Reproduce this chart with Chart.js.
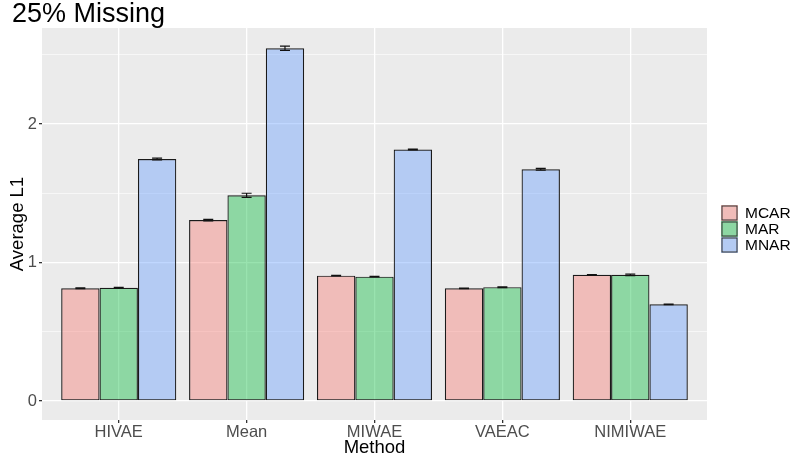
<!DOCTYPE html>
<html>
<head>
<meta charset="utf-8">
<script src="https://cdn.jsdelivr.net/npm/chart.js@4"></script>
<style>
  html, body { margin: 0; padding: 0; background: #fff; }
  #wrap { width: 791px; height: 457px; }
</style>
</head>
<body>
<div id="wrap"><canvas id="bars" width="791" height="457"></canvas></div>
<script>
const methods = ['HIVAE', 'Mean', 'MIWAE', 'VAEAC', 'NIMIWAE'];
const mechanisms = ['MCAR', 'MAR', 'MNAR'];

const mcar = [0.814, 1.306, 0.905, 0.814, 0.911];
const mar = [0.818, 1.485, 0.898, 0.822, 0.911];
const mnar = [1.747, 2.547, 1.816, 1.673, 0.698];

const mcarErr = [0.003, 0.006, 0.002, 0.002, 0.002];
const marErr = [0.002, 0.015, 0.002, 0.003, 0.005];
const mnarErr = [0.006, 0.015, 0.003, 0.006, 0.002];

const yTicks = [0, 0.5, 1, 1.5, 2, 2.5];

const fills = ['rgba(248,118,109,0.4)', 'rgba(0,186,56,0.4)', 'rgba(97,156,255,0.4)'];
const FONT = '"Liberation Sans", Arial, sans-serif';

function series(vals) {
  return vals.map((v, i) => ({ x: i + 1, y: v }));
}

const errs = [mcarErr, marErr, mnarErr];

// grey panel behind the plot, ggplot style
const panelBg = {
  id: 'panelBg',
  beforeDraw(chart) {
    const { ctx, chartArea: a } = chart;
    ctx.save();
    ctx.fillStyle = '#EBEBEB';
    ctx.fillRect(a.left, a.top, a.right - a.left, a.bottom - a.top);
    ctx.restore();
  }
};

const errorBars = {
  id: 'errorBars',
  afterDatasetsDraw(chart) {
    const { ctx } = chart;
    const y = chart.scales.y;
    ctx.save();
    ctx.strokeStyle = '#111';
    ctx.lineWidth = 1.2;
    chart.data.datasets.forEach((ds, di) => {
      const meta = chart.getDatasetMeta(di);
      meta.data.forEach((bar, i) => {
        const v = ds.data[i].y, e = errs[di][i];
        const x = bar.x;
        const yHi = y.getPixelForValue(v + e), yLo = y.getPixelForValue(v - e);
        ctx.beginPath();
        ctx.moveTo(x, yHi); ctx.lineTo(x, yLo);
        ctx.moveTo(x - 5, yHi); ctx.lineTo(x + 5, yHi);
        ctx.moveTo(x - 5, yLo); ctx.lineTo(x + 5, yLo);
        ctx.stroke();
      });
    });
    ctx.restore();
  }
};

// title and legend drawn ggplot-like
const decor = {
  id: 'decor',
  afterDraw(chart) {
    const { ctx } = chart;
    ctx.save();
    ctx.fillStyle = '#000';
    ctx.font = '27px ' + FONT;
    ctx.textBaseline = 'middle';
    ctx.textAlign = 'left';
    ctx.fillText('25% Missing', 12, 15);

    const kx = 721, ky = 205, kw = 17, kh = 16;
    ctx.font = '15.5px ' + FONT;
    mechanisms.forEach((m, i) => {
      const top = ky + i * kh;
      ctx.fillStyle = '#EBEBEB';
      ctx.fillRect(kx, top, kw, kh);
      ctx.fillStyle = fills[i];
      ctx.fillRect(kx, top, kw, kh);
      ctx.strokeStyle = '#333';
      ctx.lineWidth = 1;
      ctx.strokeRect(kx + 1, top + 1, kw - 2, kh - 2);
      ctx.fillStyle = '#000';
      ctx.fillText(m, kx + kw + 7, top + kh / 2 + 1);
    });
    ctx.restore();
  }
};

new Chart(document.getElementById('bars'), {
  type: 'bar',
  data: {
    datasets: [
      { label: 'MCAR', data: series(mcar), backgroundColor: fills[0] },
      { label: 'MAR', data: series(mar), backgroundColor: fills[1] },
      { label: 'MNAR', data: series(mnar), backgroundColor: fills[2] }
    ].map(d => Object.assign(d, {
      borderColor: '#1a1a1a',
      borderWidth: 1.2,
      borderSkipped: false,
      categoryPercentage: 0.9,
      barPercentage: 1.0
    }))
  },
  options: {
    responsive: false,
    animation: false,
    layout: { padding: { top: 28, right: 84, left: 0, bottom: 0 } },
    plugins: {
      legend: { display: false },
      tooltip: { enabled: false }
    },
    scales: {
      x: {
        type: 'linear',
        min: 0.4,
        max: 5.6,
        offset: false,
        afterBuildTicks(axis) { axis.ticks = methods.map((m, i) => ({ value: i + 1 })); },
        afterFit(axis) { axis.height = 37; },
        ticks: {
          callback: (v) => methods[v - 1] || '',
          color: '#4D4D4D',
          font: { size: 16.5, family: FONT },
          padding: 0,
          maxRotation: 0
        },
        grid: { offset: false, color: '#FFFFFF', lineWidth: 1.3, tickLength: 3, tickColor: '#333' },
        border: { display: false },
        title: {
          display: true, text: 'Method', color: '#000',
          font: { size: 18.5, family: FONT },
          padding: { top: 0, bottom: -2 }
        }
      },
      y: {
        min: -0.137,
        max: 2.693,
        afterBuildTicks(axis) { axis.ticks = yTicks.map(v => ({ value: v })); },
        afterFit(axis) { axis.width = 42; },
        ticks: {
          callback: (v) => Number.isInteger(v) ? String(v) : '',
          color: '#4D4D4D',
          font: { size: 16.5, family: FONT },
          padding: 2
        },
        grid: {
          color: '#FFFFFF',
          lineWidth: (c) => Number.isInteger(c.tick && c.tick.value) ? 1.3 : 0.6,
          tickLength: 3,
          tickColor: (c) => Number.isInteger(c.tick && c.tick.value) ? '#333' : 'rgba(0,0,0,0)'
        },
        border: { display: false },
        title: {
          display: true, text: 'Average L1', color: '#000',
          font: { size: 18.5, family: FONT },
          padding: { top: 7, bottom: 0 }
        }
      }
    }
  },
  plugins: [panelBg, errorBars, decor]
});
</script>
</body>
</html>
